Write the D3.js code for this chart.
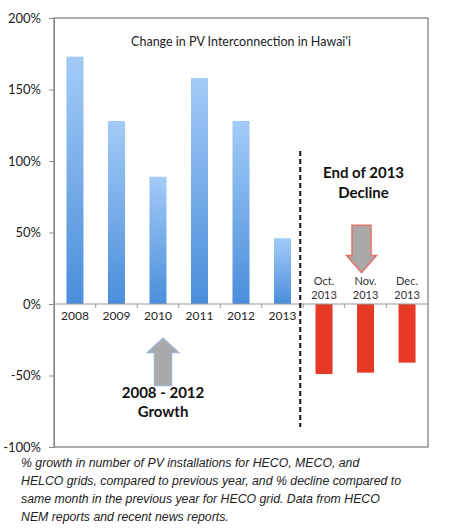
<!DOCTYPE html>
<html>
<head>
<meta charset="utf-8">
<script src="https://cdn.jsdelivr.net/npm/d3@7"></script>
<style>
  body { margin: 0; background: #fff; }
  svg text { font-family: Lato, 'Open Sans', sans-serif; }
</style>
</head>
<body>
<div id="chart"></div>
<script>
// data
var categories = ['2008', '2009', '2010', '2011', '2012', '2013', 'Oct. 2013', 'Nov. 2013', 'Dec. 2013']
var values = [173, 128, 89, 158, 128, 46, -49, -48, -41]
var yTicks = [-100, -50, 0, 50, 100, 150, 200]
var captionLines = [
  '% growth in number of PV installations for HECO, MECO, and',
  'HELCO grids, compared to previous year, and % decline compared to',
  'same month in the previous year for HECO grid. Data from HECO',
  'NEM reports and recent news reports.'
]

var margin = { top: 18, left: 54, right: 25, bottom: 82 }
var width = 453 - margin.left - margin.right
var height = 529 - margin.top - margin.bottom

var svg = d3.select('#chart')
  .append('svg')
  .attr('width', 453)
  .attr('height', 529)

var defs = svg.append('defs')
var grad = defs.append('linearGradient')
  .attr('id', 'blue-grad')
  .attr('x1', 0).attr('y1', 0).attr('x2', 0).attr('y2', 1)
grad.append('stop').attr('offset', '0%').attr('stop-color', '#a3cbf7')
grad.append('stop').attr('offset', '100%').attr('stop-color', '#4a8edb')

var g = svg.append('g')
  .attr('transform', 'translate(' + margin.left + ',' + margin.top + ')')

var xPositionScale = d3.scaleBand()
  .domain(categories)
  .range([0, width])
  .paddingInner(0.59)
  .paddingOuter(0.3)

var yPositionScale = d3.scaleLinear()
  .domain([-100, 200])
  .range([height, 0])

// plot frame
g.append('rect')
  .attr('x', 0)
  .attr('y', 0)
  .attr('width', width)
  .attr('height', height)
  .attr('fill', 'none')
  .attr('stroke', '#777')
  .attr('stroke-width', 1.2)

// y axis
var yAxis = d3.axisLeft(yPositionScale)
  .tickValues(yTicks)
  .tickSize(5)
  .tickPadding(8)
  .tickFormat(d => d + '%')
g.append('g')
  .attr('class', 'axis y-axis')
  .call(yAxis)
  .call(s => s.select('.domain').attr('stroke', '#888'))
  .call(s => s.selectAll('.tick line').attr('stroke', '#888'))
  .call(s => s.selectAll('.tick text').attr('font-size', '13px').attr('fill', '#222'))

// bars
g.selectAll('.bar')
  .data(values)
  .enter()
  .append('rect')
  .attr('class', 'bar')
  .attr('x', (d, i) => xPositionScale(categories[i]))
  .attr('width', xPositionScale.bandwidth())
  .attr('y', d => yPositionScale(Math.max(0, d)))
  .attr('height', d => Math.abs(yPositionScale(d) - yPositionScale(0)))
  .attr('fill', d => d >= 0 ? 'url(#blue-grad)' : '#e63a26')

// zero line with ticks between categories
g.append('line')
  .attr('x1', 0)
  .attr('x2', width)
  .attr('y1', yPositionScale(0))
  .attr('y2', yPositionScale(0))
  .attr('stroke', '#999')
var step = xPositionScale.step()
g.selectAll('.xtick')
  .data(categories.slice(1))
  .enter()
  .append('line')
  .attr('x1', d => xPositionScale(d) - (step - xPositionScale.bandwidth()) / 2)
  .attr('x2', d => xPositionScale(d) - (step - xPositionScale.bandwidth()) / 2)
  .attr('y1', yPositionScale(0))
  .attr('y2', yPositionScale(0) + 4)
  .attr('stroke', '#999')

// category labels
categories.forEach(function(c, i) {
  var cx = xPositionScale(c) + xPositionScale.bandwidth() / 2
  if (values[i] >= 0) {
    g.append('text')
      .text(c)
      .attr('x', cx)
      .attr('y', yPositionScale(0) + 16)
      .attr('text-anchor', 'middle')
      .attr('font-size', '12px')
      .attr('fill', '#222')
  } else {
    var parts = c.split(' ')
    g.append('text')
      .text(parts[0])
      .attr('x', cx)
      .attr('y', yPositionScale(0) - 19)
      .attr('text-anchor', 'middle')
      .attr('font-size', '11px')
      .attr('fill', '#333')
    g.append('text')
      .text(parts[1])
      .attr('x', cx)
      .attr('y', yPositionScale(0) - 5)
      .attr('text-anchor', 'middle')
      .attr('font-size', '11px')
      .attr('fill', '#333')
  }
})

// dashed divider between yearly and monthly bars
var divX = xPositionScale('Oct. 2013') - (step - xPositionScale.bandwidth()) / 2 - 3
g.append('line')
  .attr('x1', divX)
  .attr('x2', divX)
  .attr('y1', yPositionScale(107))
  .attr('y2', yPositionScale(-86))
  .attr('stroke', '#111')
  .attr('stroke-width', 2)
  .attr('stroke-dasharray', '5,3')

// title
g.append('text')
  .text("Change in PV Interconnection in Hawai'i")
  .attr('x', 187)
  .attr('y', 28)
  .attr('text-anchor', 'middle')
  .attr('font-size', '12.5px')
  .attr('fill', '#222')

// annotation: decline
var decX = xPositionScale('Nov. 2013') + xPositionScale.bandwidth() / 2
g.append('text')
  .text('End of 2013')
  .attr('x', decX - 2)
  .attr('y', yPositionScale(88))
  .attr('text-anchor', 'middle')
  .attr('font-size', '15px')
  .attr('font-weight', 'bold')
  .attr('fill', '#111')
g.append('text')
  .text('Decline')
  .attr('x', decX - 2)
  .attr('y', yPositionScale(74))
  .attr('text-anchor', 'middle')
  .attr('font-size', '15px')
  .attr('font-weight', 'bold')
  .attr('fill', '#111')

function arrowPath(cx, yTail, yHeadBase, yTip, shaftW, headW) {
  return d3.line()([
    [cx - shaftW / 2, yTail],
    [cx + shaftW / 2, yTail],
    [cx + shaftW / 2, yHeadBase],
    [cx + headW / 2, yHeadBase],
    [cx, yTip],
    [cx - headW / 2, yHeadBase],
    [cx - shaftW / 2, yHeadBase]
  ]) + 'Z'
}

g.append('path')
  .attr('d', arrowPath(decX - 4, yPositionScale(55), yPositionScale(34), yPositionScale(22), 19, 30))
  .attr('fill', '#a9a9a9')
  .attr('stroke', '#e0736a')
  .attr('stroke-width', 1.5)

// annotation: growth
var growX = 163 - margin.left
g.append('path')
  .attr('d', arrowPath(growX, yPositionScale(-57), yPositionScale(-34), yPositionScale(-24), 17, 31))
  .attr('fill', '#a9a9a9')
  .attr('stroke', '#9fb3cc')
  .attr('stroke-width', 1.5)
g.append('text')
  .text('2008 - 2012')
  .attr('x', growX)
  .attr('y', yPositionScale(-66))
  .attr('text-anchor', 'middle')
  .attr('font-size', '15px')
  .attr('font-weight', 'bold')
  .attr('fill', '#111')
g.append('text')
  .text('Growth')
  .attr('x', growX)
  .attr('y', yPositionScale(-79))
  .attr('text-anchor', 'middle')
  .attr('font-size', '15px')
  .attr('font-weight', 'bold')
  .attr('fill', '#111')

// caption
svg.selectAll('.caption')
  .data(captionLines)
  .enter()
  .append('text')
  .attr('class', 'caption')
  .text(d => d)
  .attr('x', 21)
  .attr('y', (d, i) => 467 + i * 18)
  .attr('font-size', '12.3px')
  .attr('font-style', 'italic')
  .style('font-family', "'Liberation Sans', Arial, sans-serif")
  .attr('fill', '#222')
</script>
</body>
</html>
